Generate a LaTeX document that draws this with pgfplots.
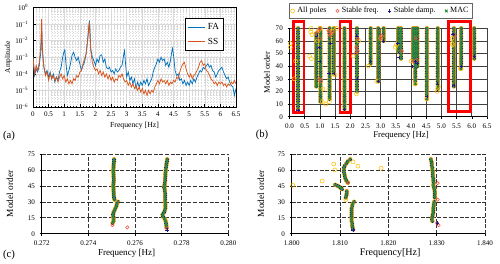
\documentclass[border=0pt]{standalone}
\usepackage{pgfplots}
\pgfplotsset{compat=1.18}
\usepackage{pgfplotstable}
\usepackage{fontspec}
\setmainfont{Liberation Serif}

\definecolor{fa}{HTML}{0072BD}
\definecolor{ss}{HTML}{D95319}
\definecolor{allp}{HTML}{FFC000}
\definecolor{sfreq}{HTML}{F0503C}
\definecolor{sdamp}{HTML}{1A1A8C}
\definecolor{mac}{HTML}{2E8B3A}

% ---------- (a) spectra ----------
\pgfplotstableread[row sep=\\]{
f a\\
0.00 1e-3\\0.05 7.9e-5\\0.10 2.0e-4\\0.15 1.3e-4\\0.20 3.2e-4\\0.25 2.0e-3\\0.28 5.0e-2\\0.30 2.5e-3\\0.35 2.5e-4\\0.40 1e-4\\
0.45 1.6e-4\\0.50 6.3e-5\\0.55 1.3e-4\\0.60 5.0e-5\\0.65 1e-4\\0.70 3.2e-5\\0.75 6.3e-5\\0.80 4.0e-5\\0.85 1.3e-4\\0.90 2.5e-4\\
0.95 1e-3\\1.00 2.5e-3\\1.02 2.8e-3\\1.05 5.0e-4\\1.10 7.9e-5\\1.15 1.6e-4\\1.20 4.0e-4\\1.25 1.3e-3\\1.30 2.0e-3\\1.35 1e-3\\
1.40 6.3e-4\\1.45 1e-3\\1.50 4.0e-4\\1.55 1.6e-4\\1.60 3.2e-4\\1.65 5.0e-4\\1.70 1.6e-3\\1.75 1.3e-2\\1.80 1.26e-1\\1.81 1.4e-1\\
1.83 2.5e-2\\1.85 3.2e-3\\1.90 1e-3\\1.95 6.3e-4\\2.00 3.2e-4\\2.05 7.9e-4\\2.10 5.0e-4\\2.15 1.3e-3\\2.20 1.4e-3\\2.25 5.0e-4\\
2.30 7.9e-4\\2.35 2.5e-4\\2.40 2.0e-4\\2.45 2.5e-4\\2.50 1.3e-4\\2.55 1.6e-4\\2.60 1e-4\\2.65 2.0e-4\\2.70 1.3e-4\\2.75 1.6e-4\\
2.80 2.5e-4\\2.85 3.2e-4\\2.90 1.3e-3\\2.93 2.5e-3\\2.96 5.0e-4\\3.00 6.3e-5\\3.05 1.3e-4\\3.10 4.0e-5\\3.15 6.3e-5\\3.20 2.5e-5\\
3.25 5.0e-5\\3.30 1.3e-5\\3.35 3.2e-5\\3.40 1.6e-5\\3.45 3.2e-5\\3.50 2.0e-5\\3.55 4.0e-5\\3.60 2.5e-5\\3.65 5.0e-5\\3.70 2.0e-5\\
3.75 3.2e-5\\3.80 5.0e-5\\3.85 1.3e-4\\3.90 2.5e-4\\3.95 4.0e-4\\4.00 7.9e-4\\4.05 5.0e-4\\4.10 1e-3\\4.15 6.3e-4\\4.20 7.9e-4\\
4.25 3.2e-4\\4.30 5.0e-4\\4.35 2.5e-4\\4.40 6.3e-4\\4.45 2.5e-3\\4.47 3.5e-3\\4.50 1.3e-3\\4.55 1.6e-4\\4.60 7.9e-5\\4.65 1e-4\\
4.70 4.0e-5\\4.75 5.0e-5\\4.80 2.5e-5\\4.85 4.0e-5\\4.90 2.0e-5\\4.95 3.2e-5\\5.00 2.0e-5\\5.05 4.0e-5\\5.10 2.5e-5\\5.15 5.0e-5\\
5.20 3.2e-5\\5.25 6.3e-5\\5.30 1e-4\\5.35 1.6e-4\\5.40 1.3e-4\\5.45 2.5e-4\\5.50 2.0e-4\\5.55 3.2e-4\\5.60 4.0e-4\\5.65 2.5e-4\\
5.70 3.2e-4\\5.75 1.6e-4\\5.80 1.3e-4\\5.85 6.3e-5\\5.90 1e-4\\5.95 1.6e-4\\6.00 2.0e-4\\6.05 2.5e-4\\6.10 1.3e-4\\6.15 7.9e-5\\
6.20 5.0e-5\\6.25 6.3e-5\\6.30 3.2e-5\\6.35 2.0e-5\\6.40 1.6e-5\\6.45 5.0e-6\\6.50 1.3e-5\\
}\specFA

\pgfplotstableread[row sep=\\]{
f a\\
0.00 1e-3\\0.05 1e-4\\0.10 3.2e-4\\0.15 1.6e-4\\0.20 5.0e-4\\0.25 5.0e-3\\0.27 1.26e-1\\0.275 2.0e-1\\0.29 1.3e-2\\0.32 1e-3\\
0.35 2.5e-4\\0.40 7.9e-5\\0.45 1.3e-4\\0.50 4.0e-5\\0.55 1e-4\\0.60 5.0e-5\\0.65 7.9e-5\\0.70 4.0e-5\\0.75 6.3e-5\\0.80 3.2e-5\\
0.85 6.3e-5\\0.90 1e-4\\0.95 5.0e-5\\1.00 7.9e-5\\1.05 3.2e-5\\1.10 5.0e-5\\1.15 2.5e-5\\1.20 4.0e-5\\1.25 2.5e-5\\1.30 5.0e-5\\
1.35 4.0e-5\\1.40 7.9e-5\\1.45 6.3e-5\\1.50 1.3e-4\\1.55 1.6e-4\\1.60 4.0e-4\\1.65 7.9e-4\\1.70 1.6e-3\\1.75 1e-2\\1.79 6.3e-2\\
1.805 1.26e-1\\1.82 3.2e-2\\1.85 2.5e-3\\1.90 5.0e-4\\1.95 2.5e-4\\2.00 1.6e-4\\2.05 2.0e-4\\2.10 1e-4\\2.15 1.6e-4\\2.20 7.9e-5\\
2.25 1.3e-4\\2.30 6.3e-5\\2.35 1e-4\\2.40 5.0e-5\\2.45 7.9e-5\\2.50 4.0e-5\\2.55 6.3e-5\\2.60 3.2e-5\\2.65 5.0e-5\\2.70 4.0e-5\\
2.75 7.9e-5\\2.80 6.3e-5\\2.85 1e-4\\2.90 5.0e-5\\2.95 3.2e-5\\3.00 4.0e-5\\3.05 2.0e-5\\3.10 3.2e-5\\3.15 1.6e-5\\3.20 2.5e-5\\
3.25 1.3e-5\\3.30 2.0e-5\\3.35 1e-5\\3.40 1.6e-5\\3.45 7.9e-6\\3.50 1.3e-5\\3.55 6.3e-6\\3.60 1e-5\\3.65 5.0e-6\\3.70 1e-5\\
3.75 6.3e-6\\3.80 1e-5\\3.85 7.9e-6\\3.90 1.6e-5\\3.95 2.5e-5\\4.00 4.0e-5\\4.05 2.5e-5\\4.10 5.0e-5\\4.15 3.2e-5\\4.20 4.0e-5\\
4.25 2.5e-5\\4.30 4.0e-5\\4.35 2.0e-5\\4.40 3.2e-5\\4.45 2.5e-5\\4.50 4.0e-5\\4.55 3.2e-5\\4.60 6.3e-5\\4.65 5.0e-5\\4.70 1.3e-4\\
4.75 2.5e-4\\4.80 4.0e-4\\4.85 5.0e-4\\4.90 2.0e-4\\4.95 1e-4\\5.00 6.3e-5\\5.05 1e-4\\5.10 5.0e-5\\5.15 7.9e-5\\5.20 1e-4\\
5.25 1.6e-4\\5.30 2.5e-4\\5.35 5.0e-4\\5.40 6.3e-4\\5.45 3.2e-4\\5.50 4.0e-4\\5.55 1.6e-4\\5.60 1.3e-4\\5.65 7.9e-5\\5.70 5.0e-5\\
5.75 4.0e-5\\5.80 2.5e-5\\5.85 3.2e-5\\5.90 2.0e-5\\5.95 3.2e-5\\6.00 2.5e-5\\6.05 3.2e-5\\6.10 2.0e-5\\6.15 2.5e-5\\6.20 1.6e-5\\
6.25 2.5e-5\\6.30 2.0e-5\\6.35 3.2e-5\\6.40 2.5e-5\\6.45 4.0e-5\\6.50 2.5e-5\\
}\specSS

% ---------- (b) stabilisation diagram: stable columns ----------
\pgfplotstableread[row sep=\\]{
x y\\
0.28 6\\0.28 8\\0.28 10\\0.28 12\\0.28 14\\0.28 16\\0.28 18\\0.28 20\\0.28 22\\0.28 24\\0.28 26\\0.28 28\\0.28 30\\0.28 32\\0.28 34\\0.28 36\\0.28 38\\0.28 40\\0.28 42\\0.28 44\\0.28 46\\0.28 48\\0.28 50\\0.28 52\\0.28 54\\0.28 56\\0.28 58\\0.28 60\\0.28 62\\0.28 64\\0.28 66\\0.28 68\\0.28 70\\
0.88 24\\0.88 26\\0.88 28\\0.88 30\\0.88 32\\0.88 34\\0.88 36\\0.88 38\\0.88 40\\0.88 42\\0.88 44\\0.88 46\\0.88 48\\0.88 50\\0.88 52\\0.88 54\\0.88 56\\0.88 58\\0.88 60\\0.88 62\\0.88 64\\0.88 66\\
1.02 12\\1.02 14\\1.02 16\\1.02 18\\1.02 20\\1.02 22\\1.02 24\\1.02 26\\1.02 28\\1.02 30\\1.02 32\\1.02 34\\1.02 36\\1.02 38\\1.02 40\\1.02 42\\1.02 44\\1.02 46\\1.02 48\\1.02 50\\1.02 52\\1.02 54\\1.02 56\\1.02 58\\1.02 60\\1.02 62\\1.02 64\\1.02 66\\1.02 68\\1.02 70\\
1.32 14\\1.32 16\\1.32 18\\1.32 20\\1.32 22\\1.32 24\\1.32 26\\1.32 28\\1.32 30\\1.32 32\\1.32 34\\1.32 36\\1.32 38\\1.32 40\\1.32 42\\1.32 44\\1.32 46\\1.32 48\\1.32 50\\1.32 52\\1.32 54\\1.32 56\\1.32 58\\1.32 60\\1.32 62\\1.32 64\\1.32 66\\1.32 68\\1.32 70\\
1.46 34\\1.46 36\\1.46 38\\1.46 40\\1.46 42\\1.46 44\\1.46 46\\1.46 48\\1.46 50\\1.46 52\\1.46 54\\1.46 56\\1.46 58\\1.46 60\\1.46 62\\1.46 64\\1.46 66\\1.46 68\\1.46 70\\
1.81 6\\1.81 8\\1.81 10\\1.81 12\\1.81 14\\1.81 16\\1.81 18\\1.81 20\\1.81 22\\1.81 24\\1.81 26\\1.81 28\\1.81 30\\1.81 32\\1.81 34\\1.81 36\\1.81 38\\1.81 40\\1.81 42\\1.81 44\\1.81 46\\1.81 48\\1.81 50\\1.81 52\\1.81 54\\1.81 56\\1.81 58\\1.81 60\\1.81 62\\1.81 64\\1.81 66\\1.81 68\\1.81 70\\
2.22 20\\2.22 22\\2.22 24\\2.22 26\\2.22 28\\2.22 30\\2.22 32\\2.22 34\\2.22 36\\2.22 38\\2.22 40\\2.22 42\\2.22 44\\2.22 46\\2.22 48\\2.22 50\\2.22 52\\2.22 54\\2.22 56\\2.22 58\\2.22 60\\2.22 62\\2.22 64\\2.22 66\\2.22 68\\2.22 70\\
2.67 42\\2.67 44\\2.67 46\\2.67 48\\2.67 50\\2.67 52\\2.67 54\\2.67 56\\2.67 58\\2.67 60\\2.67 62\\2.67 64\\2.67 66\\2.67 68\\2.67 70\\
2.92 28\\2.92 30\\2.92 32\\2.92 34\\2.92 36\\2.92 38\\2.92 40\\2.92 42\\2.92 44\\2.92 46\\2.92 48\\2.92 50\\2.92 52\\2.92 54\\2.92 56\\2.92 58\\2.92 60\\2.92 62\\2.92 64\\2.92 66\\2.92 68\\2.92 70\\
3.10 60\\3.10 62\\3.10 64\\3.10 66\\3.10 68\\3.10 70\\
3.58 52\\3.58 54\\3.58 56\\3.58 58\\3.58 60\\3.58 62\\3.58 64\\3.58 66\\3.58 68\\3.58 70\\
3.67 46\\3.67 48\\3.67 50\\3.67 52\\3.67 54\\3.67 56\\3.67 58\\3.67 60\\3.67 62\\3.67 64\\3.67 66\\3.67 68\\3.67 70\\
4.07 44\\4.07 46\\4.07 48\\4.07 50\\4.07 52\\4.07 54\\4.07 56\\4.07 58\\4.07 60\\4.07 62\\4.07 64\\4.07 66\\4.07 68\\4.07 70\\
4.14 26\\4.14 28\\4.14 30\\4.14 32\\4.14 34\\4.14 36\\4.14 38\\4.14 40\\4.14 42\\4.14 44\\4.14 46\\4.14 48\\4.14 50\\4.14 52\\4.14 54\\4.14 56\\4.14 58\\4.14 60\\4.14 62\\4.14 64\\4.14 66\\4.14 68\\4.14 70\\
4.21 40\\4.21 42\\4.21 44\\4.21 46\\4.21 48\\4.21 50\\4.21 52\\4.21 54\\4.21 56\\4.21 58\\4.21 60\\4.21 62\\4.21 64\\4.21 66\\4.21 68\\4.21 70\\
4.52 14\\4.52 16\\4.52 18\\4.52 20\\4.52 22\\4.52 24\\4.52 26\\4.52 28\\4.52 30\\4.52 32\\4.52 34\\4.52 36\\4.52 38\\4.52 40\\4.52 42\\4.52 44\\4.52 46\\4.52 48\\4.52 50\\4.52 52\\4.52 54\\4.52 56\\4.52 58\\4.52 60\\4.52 62\\4.52 64\\4.52 66\\4.52 68\\4.52 70\\
4.88 22\\4.88 24\\4.88 26\\4.88 28\\4.88 30\\4.88 32\\4.88 34\\4.88 36\\4.88 38\\4.88 40\\4.88 42\\4.88 44\\4.88 46\\4.88 48\\4.88 50\\4.88 52\\4.88 54\\4.88 56\\4.88 58\\4.88 60\\4.88 62\\4.88 64\\4.88 66\\4.88 68\\4.88 70\\
5.41 24\\5.41 26\\5.41 28\\5.41 30\\5.41 32\\5.41 34\\5.41 36\\5.41 38\\5.41 40\\5.41 42\\5.41 44\\5.41 46\\5.41 48\\5.41 50\\5.41 52\\5.41 54\\5.41 56\\5.41 58\\5.41 60\\5.41 62\\5.41 64\\5.41 66\\5.41 68\\5.41 70\\
5.65 38\\5.65 40\\5.65 42\\5.65 44\\5.65 46\\5.65 48\\5.65 50\\5.65 52\\5.65 54\\5.65 56\\5.65 58\\5.65 60\\5.65 62\\5.65 64\\5.65 66\\5.65 68\\5.65 70\\
6.08 46\\6.08 48\\6.08 50\\6.08 52\\6.08 54\\6.08 56\\6.08 58\\6.08 60\\6.08 62\\6.08 64\\6.08 66\\6.08 68\\6.08 70\\
}\colsB

% ---------- (c) zoom on first mode ----------
\pgfplotstableread[row sep=\\]{
x y\\
0.27510 70\\0.27510 68\\0.27509 66\\0.27508 64\\0.27508 62\\0.27507 60\\0.27507 58\\0.27508 56\\0.27508 54\\0.27509 52\\
0.27509 50\\0.27508 48\\0.27507 46\\0.27507 44\\0.27508 42\\0.27508 40\\0.27509 38\\0.27509 36\\0.27510 34\\0.27512 32\\
0.27527 30\\0.27522 28\\0.27520 26\\0.27516 24\\0.27512 22\\0.27508 20\\0.27506 18\\0.27507 16\\0.27508 14\\0.27508 12\\0.27504 10\\
0.27738 70\\0.27737 68\\0.27735 66\\0.27734 64\\0.27733 62\\0.27732 60\\0.27731 58\\0.27730 56\\0.27730 54\\0.27729 52\\
0.27729 50\\0.27728 48\\0.27727 46\\0.27724 44\\0.27727 42\\0.27728 40\\0.27729 38\\0.27729 36\\0.27729 34\\0.27729 32\\
0.27729 30\\0.27730 28\\0.27730 26\\0.27730 24\\0.27728 22\\0.27724 20\\0.27718 18\\0.27720 16\\0.27727 14\\0.27731 12\\
0.27733 10\\0.27734 8\\0.27735 6\\
}\colsC

% ---------- (d) zoom on second mode ----------
\pgfplotstableread[row sep=\\]{
x y\\
1.8121 70\\1.8116 68\\1.8113 66\\1.8110 64\\1.8108 62\\1.8108 60\\1.8108 58\\1.8109 56\\1.8110 54\\1.8111 52\\1.8113 50\\1.8116 48\\
1.8090 46\\1.8095 45\\1.8099 44\\1.8102 43\\1.8104 42\\
1.8114 40\\1.8114 38\\1.8113 36\\1.8112 34\\
1.8129 30\\1.8126 28\\1.8125 26\\1.8124 24\\1.8124 22\\1.8124 20\\1.8124 18\\1.8124 16\\1.8124 14\\1.8124 12\\1.8125 10\\1.8125 8\\1.8126 6\\1.8127 4\\
1.8288 70\\1.8289 68\\1.8290 66\\1.8290 64\\1.8291 62\\1.8291 60\\1.8292 58\\1.8292 56\\1.8292 54\\1.8293 52\\1.8293 50\\1.8294 48\\
1.8293 46\\1.8294 44\\1.8295 42\\1.8296 40\\1.8296 38\\1.8296 36\\1.8296 34\\1.8295 30\\1.8294 28\\1.8294 26\\1.8293 24\\
1.8293 22\\1.8293 20\\1.8292 18\\1.8291 16\\1.8290 14\\1.8291 12\\
}\colsD

\pgfplotsset{
  stabstyle/.style={
    scale only axis, clip=false,
    axis lines=left, axis line style={-, black, line width=0.5pt},
    tick align=outside, major tick length=1.5pt, tick style={black, line width=0.4pt},
    grid=major,
    /pgf/number format/assume math mode=true,
  },
  pAll/.style={only marks, mark=o, mark size=1.5pt, draw=allp, line width=0.4pt},
  pFrq/.style={only marks, mark=o, mark size=1.25pt, draw=sfreq, line width=0.4pt},
  pDmp/.style={only marks, mark=+, mark size=1.2pt, draw=sdamp, line width=0.45pt},
  pMac/.style={only marks, mark=x, mark size=1.35pt, draw=mac, line width=0.7pt},
}

\begin{document}
\begin{tikzpicture}[x=0.75pt,y=0.75pt]
\path[use as bounding box] (0,0) rectangle (500,264);

% ================= (a) =================
\begin{axis}[
  at={(24.75pt,117.75pt)}, anchor=south west, scale only axis,
  width=152.25pt, height=74.6pt,
  ymode=log, xmin=0, xmax=6.5, ymin=1e-6, ymax=1,
  xtick={0,0.5,1,1.5,2,2.5,3,3.5,4,4.5,5,5.5,6,6.5},
  ytick={1e-6,1e-5,1e-4,1e-3,1e-2,1e-1,1},
  yticklabels={10\textsuperscript{−6},10\textsuperscript{−5},10\textsuperscript{−4},10\textsuperscript{−3},10\textsuperscript{−2},10\textsuperscript{−1},10\textsuperscript{0}},
  minor x tick num=4,
  grid=both,
  major grid style={gray!30, line width=0.3pt},
  minor grid style={gray!30, line width=0.25pt, dotted},
  tick align=inside, major tick length=2pt, minor tick length=1pt,
  tick style={black, line width=0.4pt},
  axis line style={black, line width=0.5pt},
  /pgf/number format/assume math mode=true,
  ticklabel style={font=\fontsize{5.3}{6}\selectfont},
  xtick pos=bottom, ytick pos=left,
  xlabel={Frequency [Hz]}, ylabel={Amplitude},
  every axis x label/.style={at={(axis description cs:0.5,-0.19)}, anchor=center, font=\fontsize{5.8}{7}\selectfont},
  every axis y label/.style={at={(axis description cs:-0.121,0.5)}, rotate=90, anchor=center, font=\fontsize{5.6}{7}\selectfont},
  legend style={at={(0.941,0.894)}, anchor=north east, font=\fontsize{7}{8}\selectfont,
    draw=black, line width=0.4pt, inner sep=1.5pt, row sep=1pt},
  legend cell align=left,
  legend image code/.code={\draw[#1, line width=0.8pt] (0cm,0cm) -- (0.45cm,0cm);},
]
\addplot[fa, line width=0.55pt, mark=none] table[x=f, y=a] {\specFA};
\addlegendentry{FA}
\addplot[ss, line width=0.55pt, mark=none] table[x=f, y=a] {\specSS};
\addlegendentry{SS}
\end{axis}

% ================= (b) =================
\begin{axis}[
  stabstyle,
  at={(217.125pt,110.475pt)}, anchor=south west,
  width=148.1pt, height=66.3pt,
  xmin=0, xmax=6.5, ymin=0, ymax=70,
  xtick={0,0.5,1,1.5,2,2.5,3,3.5,4,4.5,5,5.5,6,6.5},
  ytick={0,10,20,30,40,50,60,70},
  xticklabel style={/pgf/number format/.cd, fixed, fixed zerofill, precision=1},
  ticklabel style={font=\fontsize{5.3}{6}\selectfont},
  grid style={black!75, line width=0.45pt},
  xlabel={Frequency [Hz]}, ylabel={Model order},
  every axis x label/.style={at={(axis description cs:0.565,-0.207)}, anchor=center, font=\fontsize{6.6}{7.5}\selectfont},
  every axis y label/.style={at={(axis description cs:-0.114,0.5)}, rotate=90, anchor=center, font=\fontsize{6.3}{7.5}\selectfont},
  legend columns=4,
  legend style={at={(0.463,1.105)}, anchor=south, font=\fontsize{6}{7}\selectfont,
    draw=black!60, line width=0.4pt, inner sep=1pt,
    /tikz/every even column/.append style={column sep=5pt}},
  legend cell align=left,
]
\addplot[pAll] table[x=x,y=y] {\colsB};
\addlegendentry{All poles}
\addplot[pFrq] table[x=x,y=y] {\colsB};
\addlegendentry{Stable freq.}
\addplot[pDmp] table[x=x,y=y] {\colsB};
\addlegendentry{Stable damp.}
\addplot[pMac] table[x=x,y=y] {\colsB};
\addlegendentry{MAC}
% scattered (not fully stable) poles
\addplot[pAll, forget plot] coordinates {
(0.03,58)(0.03,55)(0.20,44)(0.15,30)(0.72,70)(0.70,67)(0.74,65)(0.66,48)(0.72,46)(0.92,60)
(1.10,22)(1.08,12)(1.20,10)(1.31,12)(1.50,33)(1.40,68)(1.55,70)(2.20,18)(2.10,48)(2.60,40)
(2.87,28)(3.00,62)(3.48,55)(3.52,57)(4.00,44)(4.14,26)(4.52,14)(4.86,20)(4.90,24)(5.35,62)
(5.35,58)(5.38,57)(5.63,38)(2.28,60)(1.00,70)(0.95,68)};
\addplot[pFrq, forget plot] coordinates {
(0.95,68)(0.90,66)(1.00,62)(0.98,30)(1.04,28)(1.30,66)(1.35,64)(1.28,68)(1.42,67)(2.20,55)
(2.25,52)(2.18,50)(2.24,62)(3.00,62)(3.05,64)(3.70,52)(4.10,44)(4.20,45)(1.00,70)(0.28,5)
(5.45,64)(4.15,62)};
\addplot[pDmp, forget plot] coordinates {
(0.28,5)(0.90,64)(0.98,55)(1.00,44)(1.30,34)(1.35,58)(2.22,30)(2.20,64)(2.92,28)(3.55,58)
(3.60,47)(4.05,40)(4.15,44)(4.20,42)(4.52,16)(4.88,26)(5.41,25)(5.38,65)(5.65,40)(6.08,48)
(1.81,6)(1.46,34)(2.67,44)(3.10,60)};
% highlighted bands
\addplot[red, line width=2pt, mark=none, forget plot] coordinates {(0.125,3.5)(0.477,3.5)(0.477,75.2)(0.125,75.2)(0.125,3.5)(0.477,3.5)};
\addplot[red, line width=2pt, mark=none, forget plot] coordinates {(1.662,3.5)(2.01,3.5)(2.01,75.2)(1.662,75.2)(1.662,3.5)(2.01,3.5)};
\addplot[red, line width=2pt, mark=none, forget plot] coordinates {(5.23,4)(5.96,4)(5.96,75.5)(5.23,75.5)(5.23,4)(5.96,4)};
\end{axis}

% ================= (c) =================
\begin{axis}[
  stabstyle,
  at={(31.275pt,22.725pt)}, anchor=south west,
  width=140pt, height=59.8pt,
  xmin=0.272, xmax=0.280, ymin=0, ymax=75,
  xtick={0.272,0.274,0.276,0.278,0.280},
  ytick={0,15,30,45,60,75},
  xticklabel style={/pgf/number format/.cd, fixed, fixed zerofill, precision=3},
  ticklabel style={font=\fontsize{5.3}{6}\selectfont},
  grid style={black!80, line width=0.45pt, dash pattern=on 3pt off 1.2pt},
  xlabel={Frequency [Hz]}, ylabel={Model order},
  every axis x label/.style={at={(axis description cs:0.455,-0.242)}, anchor=center, font=\fontsize{6.8}{8}\selectfont},
  every axis y label/.style={at={(axis description cs:-0.17,0.5)}, rotate=90, anchor=center, font=\fontsize{7}{8}\selectfont},
]
\addplot[pAll] table[x=x,y=y] {\colsC};
\addplot[pFrq] table[x=x,y=y] {\colsC};
\addplot[pDmp] table[x=x,y=y] {\colsC};
\addplot[pMac] table[x=x,y=y] {\colsC};
\addplot[pFrq] coordinates {(0.27503,8)(0.27567,6)(0.27736,5)};
\addplot[pDmp] coordinates {(0.27737,3.5)};
\end{axis}

% ================= (d) =================
\begin{axis}[
  stabstyle,
  at={(218.775pt,22.725pt)}, anchor=south west,
  width=145pt, height=59.8pt,
  xmin=1.800, xmax=1.840, ymin=0, ymax=75,
  xtick={1.800,1.810,1.820,1.830,1.840},
  ytick={0,15,30,45,60,75},
  xticklabel style={/pgf/number format/.cd, fixed, fixed zerofill, precision=3},
  ticklabel style={font=\fontsize{5.3}{6}\selectfont},
  grid style={black!80, line width=0.45pt, dash pattern=on 3pt off 1.2pt},
  xlabel={Frequency[Hz]}, ylabel={Model order},
  every axis x label/.style={at={(axis description cs:0.509,-0.242)}, anchor=center, font=\fontsize{7.5}{8.5}\selectfont},
  every axis y label/.style={at={(axis description cs:-0.159,0.5)}, rotate=90, anchor=center, font=\fontsize{7}{8}\selectfont},
]
\addplot[pAll] coordinates {(1.8002,45.5)(1.8063,49.5)(1.8087,65.5)(1.8089,60)(1.8127,67.5)(1.8137,63.5)(1.8185,61.5)(1.8112,32)};
\addplot[pAll] table[x=x,y=y] {\colsD};
\addplot[pFrq] table[x=x,y=y] {\colsD};
\addplot[pDmp] table[x=x,y=y] {\colsD};
\addplot[pMac] table[x=x,y=y] {\colsD};
\addplot[pFrq] coordinates {(1.8117,48)(1.8302,47.5)(1.8302,32)(1.8304,8)(1.8301,10)};
\addplot[pDmp] coordinates {(1.8301,10)(1.8127,3.5)};
\end{axis}

% panel tags
\node[font=\fontsize{8}{9}\selectfont] at (9,128) {(a)};
\node[font=\fontsize{8}{9}\selectfont] at (262,129) {(b)};
\node[font=\fontsize{8}{9}\selectfont] at (9,9) {(c)};
\end{tikzpicture}
\end{document}
